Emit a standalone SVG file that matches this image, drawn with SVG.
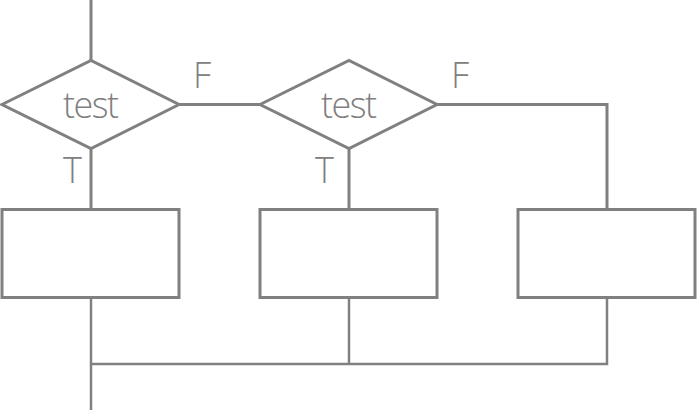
<svg xmlns="http://www.w3.org/2000/svg" width="698" height="413" viewBox="0 0 698 413">
<style>
.s{fill:none;stroke:#808080;stroke-width:3}
.c{fill:none;stroke:#808080;stroke-width:3}
.t{fill:none;stroke:#808080;stroke-width:2.5}
text{font-family:"Open Sans","Liberation Sans",sans-serif;fill:#808080;font-size:36px;font-weight:300}
.m{text-anchor:middle}
</style>
<rect width="698" height="413" fill="#fff"/>
<g id="connectors">
<line class="c" x1="91" y1="0" x2="91" y2="61"/>
<line class="c" x1="179" y1="104.5" x2="261" y2="104.5"/>
<polyline class="c" points="437,104.5 607,104.5 607,209"/>
<line class="c" x1="91" y1="148" x2="91" y2="209"/>
<line class="c" x1="349" y1="148" x2="349" y2="209"/>
<line class="t" x1="91" y1="297" x2="91" y2="410"/>
<line class="t" x1="349" y1="297" x2="349" y2="364"/>
<polyline class="t" points="607,297 607,364 91,364"/>
</g>
<g id="test1">
<polygon class="s" points="2,104.5 91,60.5 179,104.5 91,148.5"/>
<text class="m" x="91" y="118" textLength="56">test</text>
</g>
<g id="test2">
<polygon class="s" points="260,104.5 349,60.5 437,104.5 349,148.5"/>
<text class="m" x="349" y="118" textLength="56">test</text>
</g>
<g id="box1"><rect class="s" x="2" y="209.5" width="177" height="88"/></g>
<g id="box2"><rect class="s" x="260" y="209.5" width="177" height="88"/></g>
<g id="box3"><rect class="s" x="518" y="209.5" width="177" height="88"/></g>
<g id="labels">
<text x="193" y="88">F</text>
<text x="451" y="88">F</text>
<text x="63" y="183">T</text>
<text x="315" y="183">T</text>
</g>
</svg>
